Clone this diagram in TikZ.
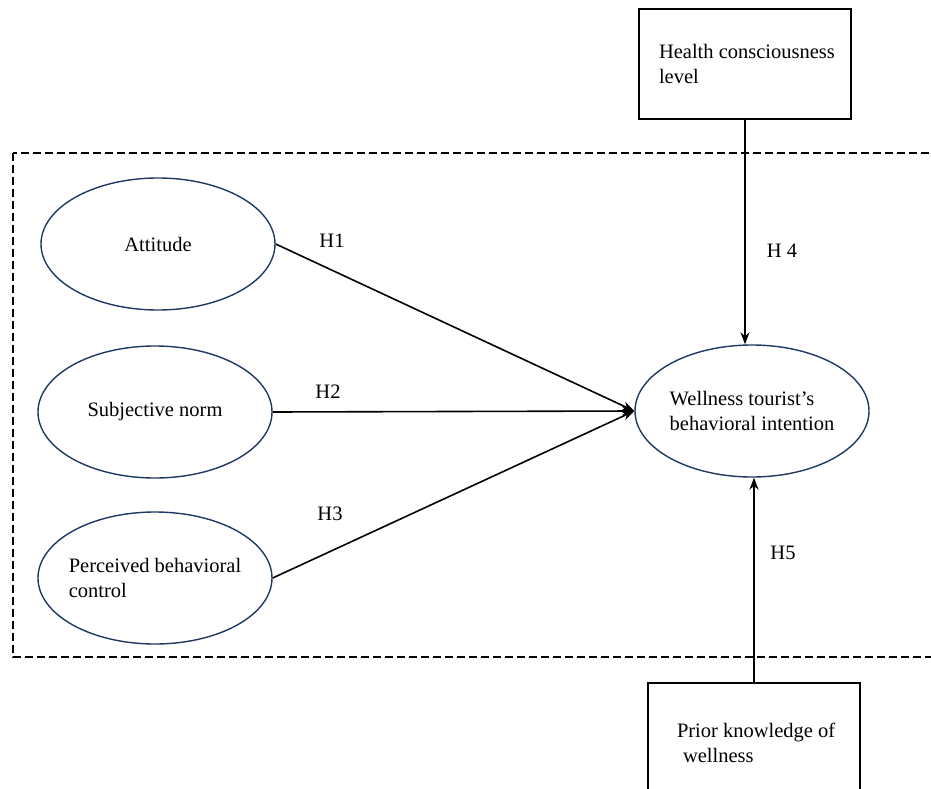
\documentclass[tikz,border=0pt]{standalone}
\usepackage{fontspec}
\setmainfont{Liberation Serif}
\usetikzlibrary{shapes.geometric,arrows.meta}
\definecolor{constructblue}{HTML}{1F3864}
\tikzset{
  construct/.style={ellipse,draw=constructblue,line width=1.4pt,minimum width=234pt,minimum height=132pt,inner sep=0pt},
  moderator/.style={rectangle,draw,line width=1.6pt,minimum width=212pt,text width=186pt,inner xsep=13pt,align=flush left},
  hpath/.style={-{Stealth[length=12pt,width=9pt]},line width=1.6pt},
  hlabel/.style={inner sep=0pt}
}

\begin{document}
\begin{tikzpicture}[x=1pt,y=-1pt,every node/.style={font=\fontsize{20.5}{25}\selectfont}]
      \useasboundingbox (0,0) rectangle (931,789);
      \clip (0,0) rectangle (931,789);
      % study frame
      \draw[line width=1.6pt,dash pattern=on 8pt off 4pt] (13,153) rectangle (945,657);
      % constructs
      \node[construct,align=center] (att) at (158,244) {Attitude};
      \node[construct,align=center] (sn)  at (155,412) {Subjective norm};
      \node[construct,align=left,inner xsep=-5pt] (pbc) at (155,578) {Perceived behavioral\\control};
      \node[construct,align=left,inner xsep=-1pt] (wbi) at (752,411) {Wellness tourist’s\\behavioral intention};
      % moderators
      \node[moderator,minimum height=110pt] (hcl) at (745,64) {\hspace*{7pt}Health consciousness\\\hspace*{7pt}level};
      \node[moderator,minimum height=120pt] (pkw) at (754,743) {\hspace*{16pt}Prior knowledge of\\\hspace*{22pt}wellness};
      % hypotheses
      \draw[hpath] (att.east) -- (wbi.west);
      \draw[hpath] (sn.east)  -- (wbi.west);
      \draw[hpath] (pbc.east) -- (wbi.west);
      \draw[hpath] (hcl.south) -- (hcl.south |- wbi.north);
      \draw[hpath] (pkw.north) -- (pkw.north |- wbi.south);
      \node[hlabel] (h1) at (332,241) {H1};
      \node[hlabel] (h2) at (328,392) {H2};
      \node[hlabel] (h3) at (330,514) {H3};
      \node[hlabel] (h4) at (782,251) {H 4};
      \node[hlabel] (h5) at (783,553) {H5};
    \end{tikzpicture}
\end{document}
